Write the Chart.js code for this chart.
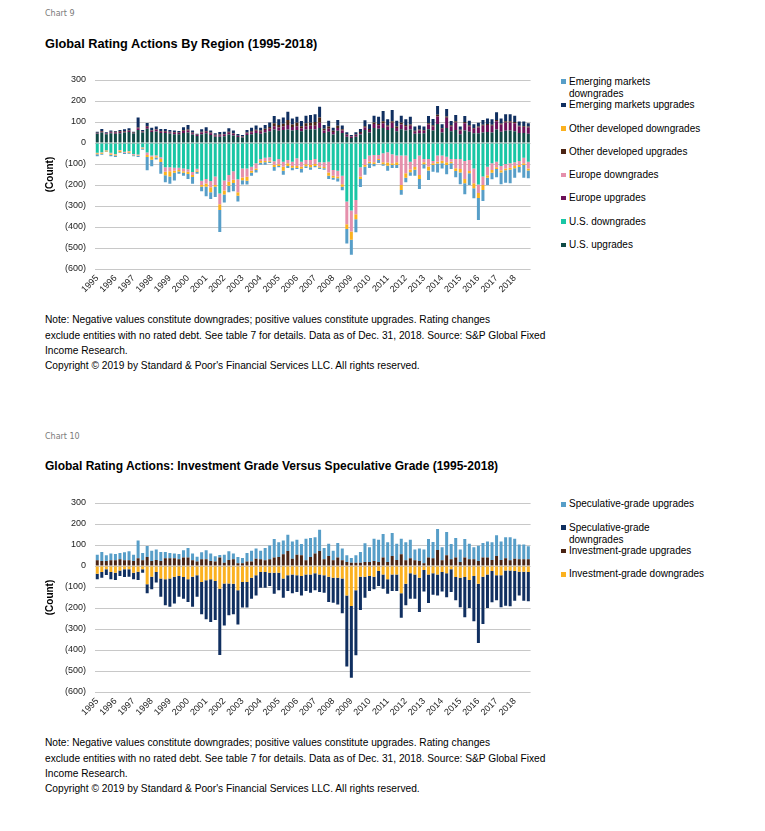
<!DOCTYPE html>
<html>
<head>
<meta charset="utf-8">
<title>Global Rating Actions</title>
<script src="https://cdn.jsdelivr.net/npm/chart.js@4.4.1/dist/chart.umd.min.js"></script>
<style>
  body { margin: 0; background: #fff; font-family: "Liberation Sans", Arial, sans-serif; color: #000; }
  #page { position: relative; width: 765px; height: 831px; overflow: hidden; }
  .txt { position: absolute; left: 45px; white-space: nowrap; }
  .chartno { font-family: "DejaVu Sans", sans-serif; font-size: 8px; line-height: 10px; color: #7a7a7a; }
  .title { font-size: 12.75px; line-height: 15px; font-weight: bold; }
  .note { font-size: 10.2px; line-height: 15.3px; }
  canvas.cv { position: absolute; left: 40px; }
  .leg { position: absolute; left: 561px; font-size: 10px; line-height: 11.7px; white-space: pre; }
  .leg i { position: absolute; left: 0; top: 3.6px; width: 4.6px; height: 4.6px; }
  .leg span { position: absolute; left: 8px; top: 0; }
</style>
</head>
<body>
<div id="page">
  <div class="txt chartno" style="top:9px">Chart 9</div>
  <div class="txt title" style="top:35.5px">Global Rating Actions By Region (1995-2018)</div>
  <canvas id="chart9" class="cv" width="500" height="240" style="top:72px"></canvas>
  <div id="legend9"></div>
  <div class="txt note" style="top:312.3px">Note: Negative values constitute downgrades; positive values constitute upgrades. Rating changes<br>exclude entities with no rated debt. See table 7 for details. Data as of Dec. 31, 2018. Source: S&amp;P Global Fixed<br>Income Research.<br>Copyright © 2019 by Standard &amp; Poor's Financial Services LLC. All rights reserved.</div>

  <div class="txt chartno" style="top:432px">Chart 10</div>
  <div class="txt title" style="top:458.5px;font-size:12px">Global Rating Actions: Investment Grade Versus Speculative Grade (1995-2018)</div>
  <canvas id="chart10" class="cv" width="500" height="240" style="top:495px"></canvas>
  <div id="legend10"></div>
  <div class="txt note" style="top:735.3px">Note: Negative values constitute downgrades; positive values constitute upgrades. Rating changes<br>exclude entities with no rated debt. See table 7 for details. Data as of Dec. 31, 2018. Source: S&amp;P Global Fixed<br>Income Research.<br>Copyright © 2019 by Standard &amp; Poor's Financial Services LLC. All rights reserved.</div>
</div>

<script>
/* ---- categories: quarters 1995Q1 .. 2018Q4 ---- */
const years    = [1995,1996,1997,1998,1999,2000,2001,2002,2003,2004,2005,2006,
                  2007,2008,2009,2010,2011,2012,2013,2014,2015,2016,2017,2018];
const quarters = ['Q1','Q2','Q3','Q4'];
const categories = [];
years.forEach(y => quarters.forEach(q => categories.push(y + ' ' + q)));

const yTicks = [300, 200, 100, 0, -100, -200, -300, -400, -500, -600];

/* ---- Chart 9: by region (counts per quarter) ---- */
const usUp = [
  44,50,42,46, 44,46,50,52, 45,62,50,68,
  52,55,48,48, 45,42,42,48, 50,40,33,42,
  46,38,30,30, 32,40,36,28, 26,38,42,48,
  44,50,56,64, 58,62,64,60, 62,56,64,66,
  64,72,48,54, 40,58,48,30, 24,30,40,62,
  50,72,68,72, 62,72,56,66, 60,64,44,46,
  46,66,60,90, 50,72,56,62, 42,60,54,46,
  46,50,52,50, 64,54,58,60, 56,48,48,44];
const usDown = [
  -46,-44,-35,-46, -52,-33,-42,-38, -52,-55,-20,-45,
  -60,-58,-68,-115, -115,-118,-118,-122, -125,-138,-123,-180,
  -172,-181,-160,-241, -178,-152,-135,-173, -121,-121,-113,-97,
  -76,-70,-68,-87, -76,-89,-81,-89, -73,-89,-81,-81,
  -76,-92,-92,-89, -129,-132,-156,-279, -321,-271,-116,-76,
  -60,-57,-57,-49, -44,-54,-60,-60, -60,-89,-76,-60,
  -76,-76,-86,-60, -60,-65,-76,-76, -76,-86,-81,-121,
  -198,-160,-113,-97, -89,-110,-100,-97, -92,-86,-70,-89];
const euUp = [
  3,4,3,5, 6,6,4,5, 3,8,4,9,
  6,8,6,6, 6,7,6,9, 10,7,5,8,
  8,9,6,7, 8,9,8,5, 4,8,9,10,
  10,12,12,16, 16,16,22,16, 18,14,16,16,
  18,24,12,14, 12,14,12,8, 6,8,8,12,
  12,18,16,22, 16,24,16,22, 20,18,10,14,
  12,22,18,36, 18,48,24,36, 18,34,26,22,
  28,32,34,32, 40,34,40,38, 38,30,28,30];
const euDown = [
  -3,-2,-1,-4, -3,-3,-4,-3, -4,-5,-3,-12,
  -5,-5,-8,-22, -20,-14,-10,-12, -12,-14,-8,-20,
  -21,-30,-40,-51, -48,-32,-40,-62, -43,-40,-19,-24,
  -10,-16,-17,-16, -25,-24,-16,-20, -37,-24,-20,-24,
  -24,-19,-22,-51, -27,-28,-40,-108, -100,-68,-44,-29,
  -29,-35,-19,-43, -49,-43,-32,-140, -84,-37,-38,-92,
  -16,-36,-11,-29, -25,-27,-13,-44, -48,-86,-52,-71,
  -40,-40,-40,-32, -27,-20,-22,-21, -17,-19,-27,-32];
const odUp = [
  2,3,2,3, 3,4,3,3, 2,4,2,4,
  3,3,3,3, 3,3,2,4, 4,3,2,3,
  3,3,3,3, 3,4,3,2, 2,4,5,5,
  5,6,8,14, 12,14,24,12, 16,10,14,14,
  18,26,8,10, 6,10,6,3, 2,3,4,6,
  5,8,6,10, 6,8,6,8, 6,6,4,4,
  4,6,6,8, 4,6,5,6, 3,6,4,4,
  4,5,5,5, 6,5,6,6, 6,4,4,4];
const odDown = [
  -5,-5,-5,-6, -4,-8,-2,-6, -2,-2,-3,-10,
  -15,-6,-14,-16, -24,-10,-8,-8, -11,-10,-6,-8,
  -15,-24,-8,-27, -19,-19,-16,-16, -13,-19,-10,-8,
  -8,-6,-4,-11, -8,-19,-12,-9, -9,-10,-10,-11,
  -10,-6,-6,-16, -10,-8,-12,-22, -40,-24,-11,-8,
  -8,-8,-5,-9, -15,-8,-13,-24, -21,-13,-13,-19,
  -9,-19,-8,-9, -11,-13,-8,-13, -16,-20,-11,-24,
  -24,-24,-13,-13, -8,-10,-8,-8, -11,-9,-8,-10];
const emUp = [
  5,10,4,6, 4,6,8,10, 4,47,6,14,
  12,12,10,10, 8,7,7,14, 22,9,4,12,
  18,9,7,12, 11,17,12,8, 6,12,17,20,
  14,18,22,35, 27,29,39,29, 29,25,36,37,
  37,51,18,28, 15,28,17,10, 6,10,15,28,
  22,32,35,48, 29,53,28,34, 27,37,20,19,
  16,35,30,42, 17,36,20,29, 15,29,22,17,
  19,23,26,26, 36,24,33,33, 30,20,22,16];
const emDown = [
  -9,-5,-2,-7, -8,-4,-4,-4, -5,-5,-6,-63,
  -31,-10,-56,-34, -35,-36,-10,-14, -23,-32,-9,-22,
  -46,-32,-49,-105, -38,-32,-39,-27, -21,-18,-14,-11,
  -9,-11,-6,-18, -7,-19,-10,-12, -5,-17,-8,-11,
  -5,-7,-7,-15, -9,-15,-17,-70, -71,-62,-39,-38,
  -22,-11,-14,-7, -24,-14,-14,-22, -22,-17,-29,-48,
  -20,-45,-32,-43, -25,-44,-27,-30, -57,-52,-56,-47,
  -105,-52,-34,-31, -39,-57,-59,-66, -45,-27,-60,-37];

/* ---- Chart 10: investment grade vs speculative grade ---- */
const igUp = [
  27,24,24,27, 27,32,27,27, 24,37,27,43,
  24,29,24,37, 37,37,32,40, 40,27,21,32,
  32,24,21,40, 16,29,32,13, 13,21,21,35,
  32,27,32,40, 43,56,71,35, 54,51,27,43,
  60,71,32,48, 27,40,27,19, 16,16,16,19,
  19,24,19,40, 19,48,29,56, 27,37,27,24,
  13,40,37,76, 27,51,32,40, 19,40,32,32,
  24,40,40,29, 48,29,37,27, 35,32,32,32];
const igDown = [
  -37,-29,-16,-29, -32,-21,-16,-16, -32,-27,-16,-87,
  -51,-29,-59,-63, -59,-51,-48,-52, -63,-51,-44,-76,
  -68,-63,-71,-108, -83,-83,-84,-116, -76,-76,-56,-44,
  -29,-29,-32,-32, -32,-60,-44,-40, -44,-48,-40,-40,
  -35,-40,-44,-51, -56,-56,-60,-140, -190,-116,-51,-51,
  -48,-51,-24,-40, -63,-40,-40,-130, -84,-35,-40,-56,
  -19,-40,-35,-40, -29,-35,-16,-52, -56,-52,-67,-48,
  -84,-51,-40,-24, -44,-44,-21,-21, -24,-27,-27,-29];
const sgUp = [
  27,43,27,33, 30,30,38,43, 30,84,35,52,
  49,49,43,30, 25,22,25,35, 46,32,23,33,
  43,35,25,12, 38,41,27,30, 25,41,52,48,
  41,59,66,89, 70,65,78,82, 71,54,103,90,
  77,102,54,58, 46,70,56,32, 22,35,51,89,
  70,106,106,112, 94,109,77,74, 86,88,51,59,
  65,89,77,100, 62,111,73,93, 59,89,74,57,
  73,70,77,84, 98,88,100,110, 95,70,70,62];
const sgDown = [
  -26,-27,-27,-34, -35,-27,-36,-35, -31,-40,-16,-43,
  -60,-50,-87,-124, -135,-127,-98,-104, -108,-143,-102,-154,
  -186,-204,-186,-316, -200,-152,-146,-162, -122,-122,-100,-96,
  -74,-74,-63,-100, -84,-91,-75,-90, -80,-92,-79,-87,
  -80,-84,-83,-120, -119,-127,-165,-339, -342,-309,-159,-100,
  -71,-60,-71,-68, -69,-79,-79,-116, -103,-121,-116,-163,
  -102,-136,-102,-101, -92,-114,-108,-111, -141,-192,-133,-215,
  -283,-225,-160,-149, -119,-153,-168,-171, -141,-114,-138,-139];

/* ---- shared chart setup ---- */
const FONT = '"Liberation Sans", Arial, sans-serif';

function fmtCount(v) {
  return v < 0 ? '(' + (-v) + ')' : String(v);
}

function makeChart(id, datasets) {
  const ctx = document.getElementById(id).getContext('2d');
  return new Chart(ctx, {
    type: 'bar',
    data: { labels: categories, datasets },
    options: {
      responsive: false,
      animation: false,
      events: [],
      layout: { padding: { top: 8, right: 9, left: 0, bottom: 0 } },
      datasets: { bar: { categoryPercentage: 1, barPercentage: 0.66, borderWidth: 0 } },
      plugins: { legend: { display: false }, tooltip: { enabled: false } },
      scales: {
        x: {
          stacked: true,
          grid: { display: false, drawTicks: false },
          border: { display: false },
          ticks: {
            autoSkip: false, maxRotation: 45, minRotation: 45, padding: 4,
            color: '#222', font: { family: FONT, size: 9 },
            callback: (v, i) => (i % 4 === 0 ? String(years[i / 4]) : ''),
          },
          afterFit: s => { s.height = 43; },
        },
        y: {
          stacked: true,
          min: -600, max: 300,
          afterBuildTicks: s => { s.ticks = yTicks.map(v => ({ value: v })); },
          grid: { color: '#c8c8c8', lineWidth: 1, drawTicks: false },
          border: { display: false },
          ticks: { padding: 9, color: '#222', font: { family: FONT, size: 9 }, callback: fmtCount },
          title: { display: true, text: '(Count)', color: '#000', font: { family: FONT, size: 10, weight: 'bold' }, padding: { top: 4, bottom: 4 } },
          // fixed axis width; drop the label-overflow padding so the plot top sits on the layout padding
          afterFit: s => { s.width = 55; s.paddingTop = 0; s.paddingBottom = 0; },
        },
      },
    },
  });
}

function buildLegend(elId, chart, top) {
  const box = document.getElementById(elId);
  const sets = chart.data.datasets.slice().reverse();
  box.innerHTML = sets.map((d, i) => `
    <div class="leg" style="top:${(top + i * 23.3 - 5.85).toFixed(1)}px">
      <i style="background:${d.backgroundColor}"></i><span>${d.legendText}</span>
    </div>`).join('');
}

/* ---- Chart 9 ---- */
const chart9 = makeChart('chart9', [
  { label: 'U.S. upgrades',                legendText: 'U.S. upgrades',                 data: usUp,   backgroundColor: '#0f4a45' },
  { label: 'U.S. downgrades',              legendText: 'U.S. downgrades',               data: usDown, backgroundColor: '#19c6a5' },
  { label: 'Europe upgrades',              legendText: 'Europe upgrades',               data: euUp,   backgroundColor: '#6c1058' },
  { label: 'Europe downgrades',            legendText: 'Europe downgrades',             data: euDown, backgroundColor: '#e58fab' },
  { label: 'Other developed upgrades',     legendText: 'Other developed upgrades',      data: odUp,   backgroundColor: '#4a2414' },
  { label: 'Other developed downgrades',   legendText: 'Other developed downgrades',    data: odDown, backgroundColor: '#fbb11f' },
  { label: 'Emerging markets upgrades',    legendText: 'Emerging markets upgrades',     data: emUp,   backgroundColor: '#102f60' },
  { label: 'Emerging markets downgrades',  legendText: 'Emerging markets\ndowngrades',  data: emDown, backgroundColor: '#579ec8' },
]);
buildLegend('legend9', chart9, 81.7);

/* ---- Chart 10 ---- */
const chart10 = makeChart('chart10', [
  { label: 'Investment-grade downgrades',  legendText: 'Investment-grade downgrades',   data: igDown, backgroundColor: '#fbb11f' },
  { label: 'Investment-grade upgrades',    legendText: 'Investment-grade upgrades',     data: igUp,   backgroundColor: '#4a2414' },
  { label: 'Speculative-grade downgrades', legendText: 'Speculative-grade\ndowngrades', data: sgDown, backgroundColor: '#102f60' },
  { label: 'Speculative-grade upgrades',   legendText: 'Speculative-grade upgrades',    data: sgUp,   backgroundColor: '#579ec8' },
]);
buildLegend('legend10', chart10, 504.3);
</script>
</body>
</html>
